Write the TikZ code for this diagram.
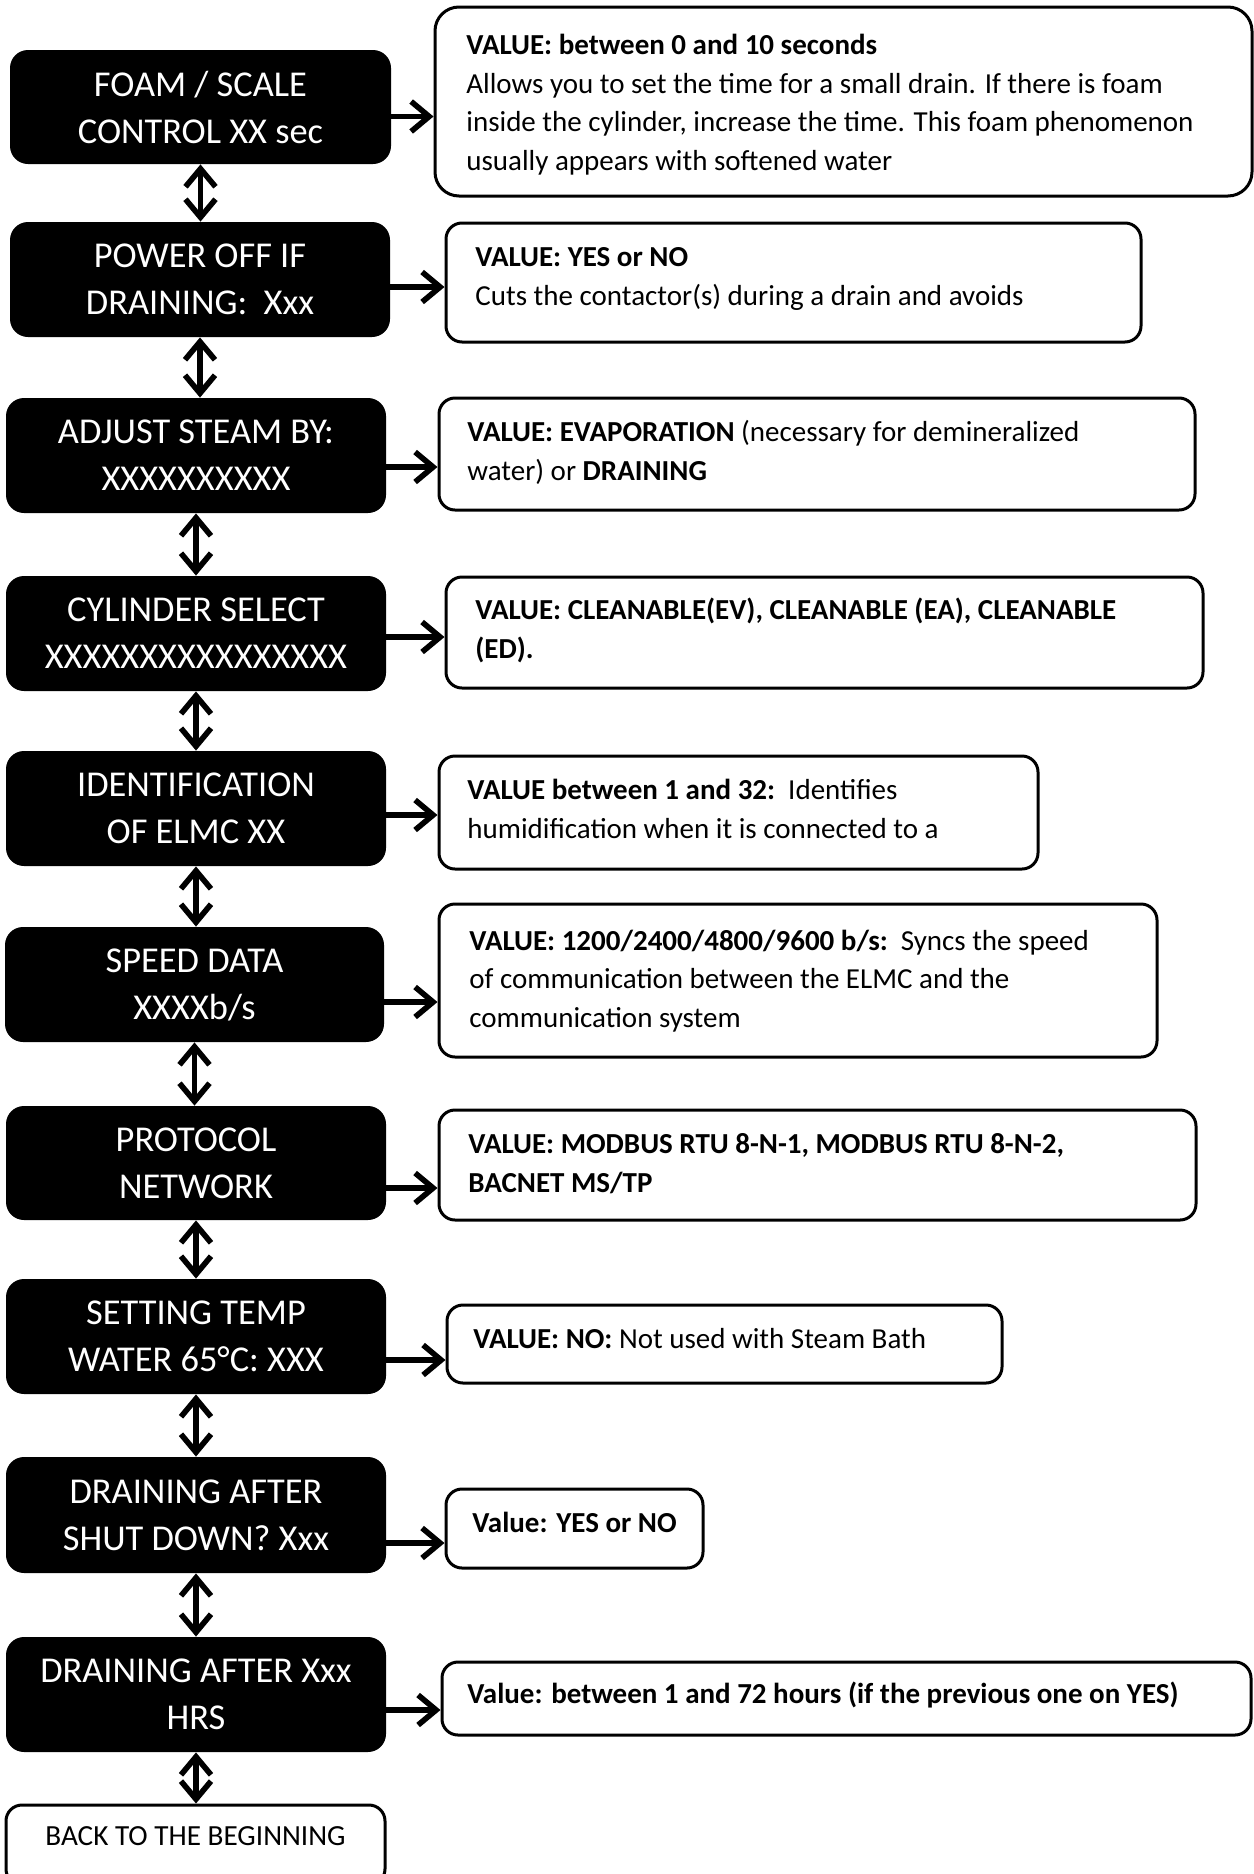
\documentclass[tikz,border=0pt]{standalone}
\usepackage{fontspec}
\setmainfont{Carlito}
\usetikzlibrary{arrows.meta}
\begin{document}
\begin{tikzpicture}[x=0.5pt,y=-0.5pt,
  blk/.style={fill=black, draw=none, rounded corners=9pt, text=white,
    font=\fontsize{18.2}{23.5}\selectfont, align=center, inner sep=0pt,
    minimum width=190pt, minimum height=57.5pt},
  info/.style={draw=black, line width=1.5pt, fill=white, rounded corners=8pt, inner sep=0pt},
  itxt/.style={anchor=base west, inner sep=0pt, align=left,
    font=\fontsize{14.5}{19.25}\selectfont},
  harr/.style={line width=2.8pt, -{Straight Barb[length=9pt,width=15pt]}},
  varr/.style={line width=2.8pt, {Straight Barb[length=9pt,width=15pt]}-{Straight Barb[length=9pt,width=15pt]}}
]
\useasboundingbox (0,0) rectangle (1253,1874);
\fill[white] (0,0) rectangle (1253,1874);

% black menu boxes
\node[blk, minimum width=190.5pt, minimum height=57pt] (b1) at (200.5,107) {FOAM / SCALE\\CONTROL XX sec};
\node[blk] (b2) at (200,279.5) {POWER OFF IF\\DRAINING:\ \ Xxx};
\node[blk] (b3) at (196,455.5) {ADJUST STEAM BY:\\XXXXXXXXXX};
\node[blk] (b4) at (196,633.5) {CYLINDER SELECT\\XXXXXXXXXXXXXXXX};
\node[blk] (b5) at (196,808.5) {IDENTIFICATION\\OF ELMC XX};
\node[blk, minimum width=189.5pt] (b6) at (194.5,984.5) {SPEED DATA\\XXXXb/s};
\node[blk, minimum height=57pt] (b7) at (196,1163) {PROTOCOL\\NETWORK};
\node[blk] (b8) at (196,1336.5) {SETTING TEMP\\WATER 65°C: XXX};
\node[blk, minimum height=58pt] (b9) at (196,1515) {DRAINING AFTER\\SHUT DOWN? Xxx};
\node[blk] (b10) at (196,1694.5) {DRAINING AFTER Xxx\\HRS};
\node[draw=black, line width=1.5pt, fill=white, rounded corners=8pt, inner sep=0pt,
  anchor=base, minimum width=189.5pt, text height=20pt, text depth=20pt,
  font=\fontsize{14.6}{16}\selectfont] (b11) at (195.5,1845) {BACK TO THE BEGINNING};

% info boxes
\node[info, rounded corners=12pt, minimum width=408.5pt, minimum height=94.5pt] (i1) at (843.5,101.5) {};
\node[info, minimum width=347.5pt, minimum height=59.5pt] (i2) at (793.5,282.5) {};
\node[info, minimum width=378pt, minimum height=56pt] (i3) at (817,454) {};
\node[info, minimum width=378.5pt, minimum height=55.5pt] (i4) at (824.5,632.5) {};
\node[info, minimum width=299.5pt, minimum height=56.5pt] (i5) at (738.5,812.5) {};
\node[info, minimum width=359pt, minimum height=76.5pt] (i6) at (798,980.5) {};
\node[info, minimum width=378.5pt, minimum height=55pt] (i7) at (817.5,1165) {};
\node[info, minimum width=277.5pt, minimum height=39pt] (i8) at (724.5,1344) {};
\node[info, minimum width=128.5pt, minimum height=39.5pt] (i9) at (574.5,1528.5) {};
\node[info, minimum width=404.5pt, minimum height=36.5pt] (i10) at (846.5,1698.5) {};

% info texts (anchored at the baseline of their last line)
\node[itxt] (t1) at (466,170) {\textbf{VALUE: between 0 and 10 seconds}\\Allows you to set the time for a small drain. If there is foam\\inside the cylinder, increase the time. This foam phenomenon\\usually appears with softened water};
\node[itxt] (t2) at (475,305) {\textbf{VALUE: YES or NO}\\Cuts the contactor(s) during a drain and avoids};
\node[itxt] (t3) at (467,480) {\textbf{VALUE: EVAPORATION} (necessary for demineralized\\water) or \textbf{DRAINING}};
\node[itxt] (t4) at (475,658) {\textbf{VALUE: CLEANABLE(EV), CLEANABLE (EA), CLEANABLE}\\\textbf{(ED).}};
\node[itxt] (t5) at (467,838) {\textbf{VALUE between 1 and 32:}\ \ Identifies\\humidification when it is connected to a};
\node[itxt] (t6) at (469,1027) {\textbf{VALUE: 1200/2400/4800/9600 b/s:}\ \ Syncs the speed\\of communication between the ELMC and the\\communication system};
\node[itxt] (t7) at (468,1192) {\textbf{VALUE: MODBUS RTU 8-N-1, MODBUS RTU 8-N-2,}\\\textbf{BACNET MS/TP}};
\node[itxt] (t8) at (473,1348) {\textbf{VALUE: NO:} Not used with Steam Bath};
\node[itxt] (t9) at (472,1532) {\textbf{Value: YES or NO}};
\node[itxt] (t10) at (467,1703) {\textbf{Value: between 1 and 72 hours (if the previous one on YES)}};

% horizontal arrows
\coordinate (a1) at ([yshift=-4.75pt]b1.east);
\coordinate (a2) at ([yshift=-3.75pt]b2.east);
\coordinate (a3) at ([yshift=-5.75pt]b3.east);
\coordinate (a4) at ([yshift=-1.75pt]b4.east);
\coordinate (a5) at ([yshift=-3.25pt]b5.east);
\coordinate (a6) at ([yshift=-8.75pt]b6.east);
\coordinate (a7) at ([yshift=-12.5pt]b7.east);
\coordinate (a8) at ([yshift=-11.75pt]b8.east);
\coordinate (a9) at ([yshift=-14pt]b9.east);
\coordinate (a10) at ([yshift=-7.75pt]b10.east);
\foreach \k in {1,...,10} {
  \draw[harr] (a\k) -- (a\k -| i\k.west);
}

% vertical double arrows
\foreach \u/\v in {b1/b2,b2/b3,b3/b4,b4/b5,b5/b6,b6/b7,b7/b8,b8/b9,b9/b10,b10/b11} {
  \draw[varr] (\u.south) -- (\u.south |- \v.north);
}
\end{tikzpicture}
\end{document}
